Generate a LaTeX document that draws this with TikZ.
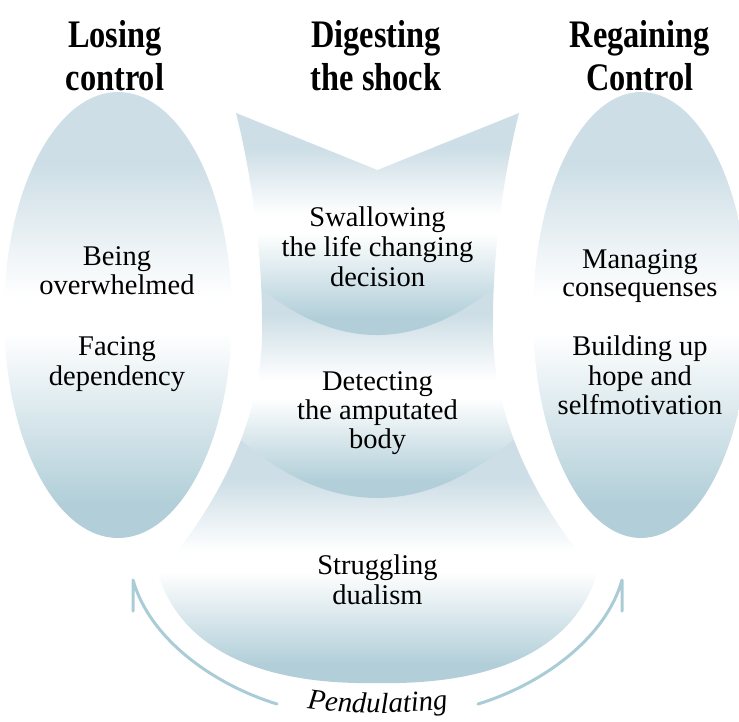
\documentclass[tikz,border=0pt]{standalone}
\usepackage{fontspec}
\setmainfont{Liberation Serif}
\newfontfamily\ttlfont{Liberation Serif}[FakeStretch=0.83]
\usetikzlibrary{shapes.geometric,decorations.text}
\definecolor{bTop}{RGB}{205,222,230}
\definecolor{bBot}{RGB}{178,207,217}
\definecolor{arrC}{RGB}{170,204,214}
\pgfdeclareverticalshading{soft}{100bp}{color(0bp)=(bBot); color(29bp)=(bBot); color(48bp)=(white); color(52bp)=(white); color(67bp)=(bTop); color(100bp)=(bTop)}
\newcommand\pendfont{\itshape\fontsize{29}{30}\selectfont}
\begin{document}
\begin{tikzpicture}[x=1pt,y=-1pt,
  body/.style={anchor=base, inner sep=0pt, font=\fontsize{28.5}{30}\selectfont},
  ttl/.style={anchor=base, inner sep=0pt, font=\ttlfont\bfseries\fontsize{39}{43}\selectfont},
  blob/.style={ellipse, draw=none, shading=soft, inner sep=0pt},
  pend/.style={draw=arrC, line width=3pt, line join=round, line cap=round}]
\useasboundingbox (0,0) rectangle (739,721);

% side ellipses
\node[blob, minimum width=228pt, minimum height=446pt] (L) at (118,315) {};
\node[blob, minimum width=216pt, minimum height=446pt] (R) at (641,315) {};

% centre piece 3 (bottom)
\begin{scope}
\clip (236,113) -- (377.5,170) -- (519,113) .. controls (507,160) and (493,240) .. (493,320) .. controls (490,420) and (540,510) .. (597,574) .. controls (570,660) and (475,685) .. (377.5,683) .. controls (280,685) and (185,660) .. (158,574) .. controls (215,510) and (265,420) .. (262,320) .. controls (262,240) and (248,160) .. (236,113) -- cycle;
\shade[shading=soft] (100,440) rectangle (660,683);
\end{scope}
% centre piece 2
\begin{scope}
\clip (236,113) -- (377.5,170) -- (519,113) .. controls (507,160) and (493,240) .. (493,320) .. controls (490,420) and (540,510) .. (597,574) .. controls (570,660) and (475,685) .. (377.5,683) .. controls (280,685) and (185,660) .. (158,574) .. controls (215,510) and (265,420) .. (262,320) .. controls (262,240) and (248,160) .. (236,113) -- cycle;
\clip (100,280) -- (660,280) -- (660,400.1) -- (554,400.1) .. controls (436,530.6) and (318,530.6) .. (200,400.1) -- (100,400.1) -- cycle;
\shade[shading=soft] (100,280) rectangle (660,498);
\end{scope}
% centre piece 1 (top)
\begin{scope}
\clip (236,113) -- (377.5,170) -- (519,113) .. controls (507,160) and (493,240) .. (493,320) .. controls (490,420) and (540,510) .. (597,574) .. controls (570,660) and (475,685) .. (377.5,683) .. controls (280,685) and (185,660) .. (158,574) .. controls (215,510) and (265,420) .. (262,320) .. controls (262,240) and (248,160) .. (236,113) -- cycle;
\clip (100,100) -- (660,100) -- (660,226.5) -- (554,226.5) .. controls (436,371.2) and (318,371.2) .. (200,226.5) -- (100,226.5) -- cycle;
\shade[shading=soft] (100,113) rectangle (660,335);
\end{scope}

% titles
\node[ttl] (t1a) at (115,47) {Losing};
\node[ttl] (t1b) at (115,90) {control};
\node[ttl] (t2a) at (376,47) {Digesting};
\node[ttl] (t2b) at (376,90) {the shock};
\node[ttl] (t3a) at (640,47) {Regaining};
\node[ttl] (t3b) at (640,90) {Control};

% left texts
\node[body] (l1) at (117,265) {Being};
\node[body] (l2) at (117,294) {overwhelmed};
\node[body] (l3) at (117,355) {Facing};
\node[body] (l4) at (117,385) {dependency};
% right texts
\node[body] (r1) at (640,268) {Managing};
\node[body] (r2) at (640,296) {consequenses};
\node[body] (r3) at (640,355) {Building up};
\node[body] (r4) at (640,385) {hope and};
\node[body] (r5) at (640,414) {selfmotivation};
% centre texts
\node[body] (c1) at (377.5,226) {Swallowing};
\node[body] (c2) at (377.5,256) {the life changing};
\node[body] (c3) at (377.5,286) {decision};
\node[body] (c4) at (377.5,390) {Detecting};
\node[body] (c5) at (377.5,419) {the amputated};
\node[body] (c6) at (377.5,448) {body};
\node[body] (c7) at (377.5,574) {Struggling};
\node[body] (c8) at (377.5,604) {dualism};

% pendulating arrows
\coordinate (tipL) at (133,580);
\coordinate (tickL) at (133,611);
\coordinate (endL) at (277,704);
\coordinate (tipR) at (622,580);
\coordinate (tickR) at (622,611);
\coordinate (endR) at (478,704);
\draw[pend] (endL) .. controls (215,685) and (150,640) .. (tipL) -- (tickL);
\draw[pend] (endR) .. controls (540,685) and (605,640) .. (tipR) -- (tickR);
\path[decorate, decoration={text along path, text align=center, text={|\pendfont|Pendulating}}]
  (270,701) .. controls (330,717) and (425,717) .. (485,701);
\end{tikzpicture}
\end{document}
